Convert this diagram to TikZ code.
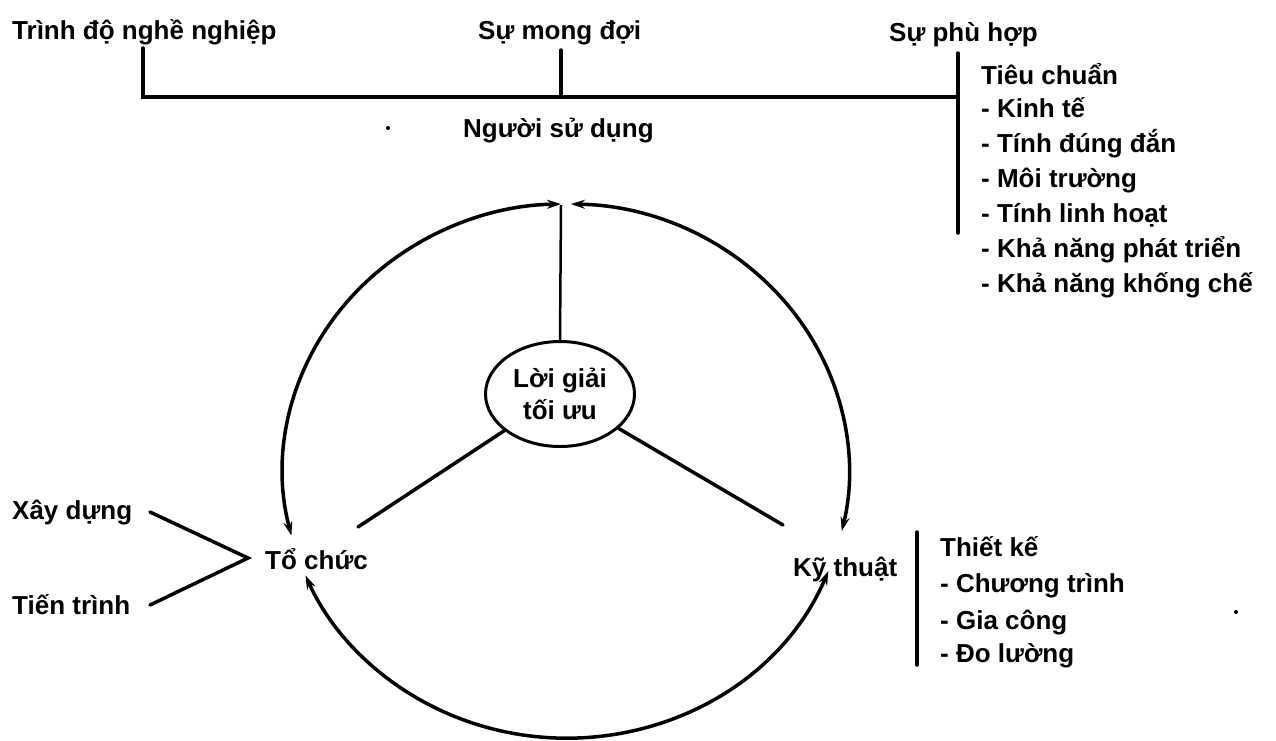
\documentclass[tikz,border=0pt]{standalone}
\usepackage{fontspec}
\setmainfont{Liberation Sans}
\usetikzlibrary{shapes.geometric,arrows.meta}
\begin{document}
\begin{tikzpicture}[x=1pt,y=-1pt,
  txt/.style={font=\bfseries\fontsize{26}{32}\selectfont, inner sep=0pt, anchor=base west},
  ln/.style={line width=3.5pt, line cap=round},
  thin ln/.style={line width=2.5pt},
  cyc/.style={line width=3.5pt, {Stealth[length=14pt,width=9pt]}-{Stealth[length=14pt,width=9pt]}},
  solbox/.style={draw, ellipse, line width=3pt, minimum width=149pt, minimum height=105pt, inner sep=0pt,
     align=center, font=\bfseries\fontsize{26}{32}\selectfont}]
\useasboundingbox[fill=white] (0,0) rectangle (1276,740);

% ---- top row ----
\node[txt] (tdnn) at (12,39) {Trình độ nghề nghiệp};
\node[txt] (smd) at (478,39) {Sự mong đợi};
\node[txt] (sph) at (889,41) {Sự phù hợp};

\coordinate (a1) at (143,48);
\coordinate (a2) at (143,97);
\coordinate (m1) at (561,50);
\coordinate (m2) at (561,97);
\coordinate (r1) at (958,53);
\coordinate (r2) at (958,233);
\coordinate (r3) at (958,97);
\draw[ln] (a1) -- (a2) -- (r3);
\draw[ln] (m1) -- (m2);
\draw[ln] (r1) -- (r2);

\node[txt] (tc0) at (981,84) {Tiêu chuẩn};
\node[txt] (tc1) at (981,117) {- Kinh tế};
\node[txt] (tc2) at (981,152) {- Tính đúng đắn};
\node[txt] (tc3) at (981,187) {- Môi trường};
\node[txt] (tc4) at (981,222) {- Tính linh hoạt};
\node[txt] (tc5) at (981,257) {- Khả năng phát triển};
\node[txt] (tc6) at (981,292) {- Khả năng khống chế};

\node[txt] (nsd) at (463,137) {Người sử dụng};
\fill (388,128) circle (2pt);

% ---- wheel ----
\coordinate (c) at (566,471);
\draw[cyc] ({566+283*cos(166)},{471+267*sin(166)}) arc[start angle=166, end angle=269, x radius=283, y radius=267];
\draw[cyc] ({566+283*cos(271)},{471+267*sin(271)}) arc[start angle=271, end angle=373, x radius=283, y radius=267];
\draw[cyc] ({566+283*cos(22)},{471+267*sin(22)}) arc[start angle=22, end angle=157, x radius=283, y radius=267];

\node[solbox] (sol) at (560,394) {Lời giải\\tối ưu};
\coordinate (topc) at (561,205);
\draw[thin ln] (sol.north) -- (topc);
\coordinate (ls) at (358,527);
\coordinate (rs) at (783,525);
\draw[ln] (sol) -- (ls);
\draw[ln] (sol) -- (rs);

% ---- left ----
\node[txt] (tochuc) at (265,569) {Tổ chức};
\node[txt] (xd) at (12,519) {Xây dựng};
\node[txt] (tt) at (12,614) {Tiến trình};
\coordinate (xe) at (150,512);
\coordinate (te) at (150,605);
\coordinate (v) at (248,558);
\draw[ln] (xe) -- (v) -- (te);

% ---- right ----
\node[txt] (kt) at (793,576) {Kỹ thuật};
\coordinate (k1) at (917,532);
\coordinate (k2) at (917,665);
\draw[ln] (k1) -- (k2);
\node[txt] (tk0) at (940,556) {Thiết kế};
\node[txt] (tk1) at (940,592) {- Chương trình};
\node[txt] (tk2) at (940,629) {- Gia công};
\node[txt] (tk3) at (940,662) {- Đo lường};
\fill (1236,612) circle (2pt);
\end{tikzpicture}
\end{document}
